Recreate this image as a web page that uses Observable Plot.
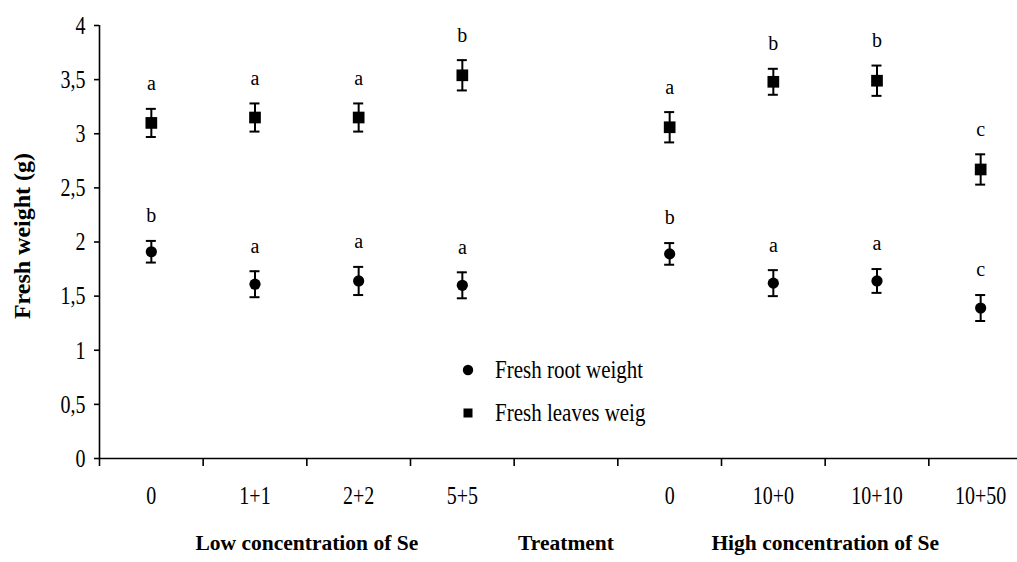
<!DOCTYPE html>
<html><head><meta charset="utf-8">
<script src="https://cdn.jsdelivr.net/npm/d3@7"></script>
<script src="https://cdn.jsdelivr.net/npm/@observablehq/plot@0.6"></script>
<style>
html,body{margin:0;padding:0;background:#fff;overflow:hidden;}
#chart{position:relative;width:1017px;height:562px;overflow:hidden;}
.legend{position:absolute;font-family:"Liberation Serif","Times New Roman",serif;font-size:21px;color:#000;}
.legend .row{position:absolute;display:flex;align-items:center;height:30px;white-space:nowrap;}
.legend svg{margin-right:19px;}
.legend span{display:inline-block;transform:scaleY(1.15);}
</style></head><body><div id="chart"></div>
<script>
// x slots (the 5th slot is the empty "Treatment" gap)
const slots = ["L0","1+1","2+2","5+5","T","H0","10+0","10+10","10+50"];
const slotLabels = ["0","1+1","2+2","5+5","","0","10+0","10+10","10+50"];
const treatments = ["L0","1+1","2+2","5+5","H0","10+0","10+10","10+50"];

const leaves    = [3.10, 3.15, 3.15, 3.54, 3.06, 3.48, 3.49, 2.67];
const leavesErr = [0.13, 0.13, 0.13, 0.14, 0.14, 0.12, 0.14, 0.14];
const leavesSig = ["a","a","a","b","a","b","b","c"];

const root      = [1.91, 1.61, 1.64, 1.60, 1.89, 1.62, 1.64, 1.39];
const rootErr   = [0.10, 0.12, 0.13, 0.12, 0.10, 0.12, 0.11, 0.12];
const rootSig   = ["b","a","a","a","b","a","a","c"];

const yTicks = [0, 0.5, 1, 1.5, 2, 2.5, 3, 3.5, 4];
const groups = [
  {label: "Low concentration of Se", from: "L0", to: "5+5"},
  {label: "Treatment", from: "T", to: "T"},
  {label: "High concentration of Se", from: "H0", to: "10+50"}
];
const seriesNames = ["Fresh root weight", "Fresh leaves weig"];

const slotX = k => slots.indexOf(k) + 0.5;
const mk = (vals, errs, sig, series) => treatments.map((t, i) => ({
  x: slotX(t), v: vals[i], lo: vals[i] - errs[i], hi: vals[i] + errs[i], sig: sig[i], series
}));
const rootPts = mk(root, rootErr, rootSig, seriesNames[0]);
const leafPts = mk(leaves, leavesErr, leavesSig, seriesNames[1]);
const allPts = rootPts.concat(leafPts);
const groupPts = groups.map(g => ({label: g.label, x: (slotX(g.from) + slotX(g.to)) / 2}));

const font = '"Liberation Serif","Times New Roman",serif';

const plot = Plot.plot({
  width: 1017,
  height: 562,
  marginLeft: 99,
  marginRight: -15,
  marginTop: 25,
  marginBottom: 104,
  style: {fontFamily: font, fontSize: "20px", color: "#000", background: "#fff", overflow: "visible"},
  x: {domain: [0, slots.length], axis: null},
  y: {domain: [0, 4], axis: null},
  marks: [
    // axis lines
    Plot.ruleX([0], {stroke: "#000", strokeWidth: 1.6}),
    Plot.ruleY([0], {stroke: "#000", strokeWidth: 1.6}),
    // y axis ticks & labels
    Plot.axisY({ticks: yTicks, tickSize: 5, tickPadding: 9, strokeWidth: 1.6,
      tickFormat: d => String(d).replace(".", ","), label: null, fontSize: 20}),
    // x boundary ticks
    Plot.axisX({ticks: d3.range(0, slots.length + 1), tickSize: 8, strokeWidth: 1.6,
      tickFormat: () => "", label: null}),
    // x category labels
    Plot.axisX({ticks: slots.map((s, i) => i + 0.5), tickSize: 0, tickPadding: 27,
      tickFormat: d => slotLabels[Math.floor(d)], label: null, fontSize: 20}),
    // group labels
    Plot.text(groupPts, {x: "x", text: "label", frameAnchor: "bottom", dy: 91,
      fontWeight: "bold", fontSize: 21.5}),
    // y label
    Plot.text(["Fresh weight (g)"], {frameAnchor: "left", textAnchor: "middle", dx: -77, dy: -6, rotate: -90,
      fontWeight: "bold", fontSize: 24}),
    // error bars
    Plot.ruleX(allPts, {x: "x", y1: "lo", y2: "hi", stroke: "#000", strokeWidth: 2}),
    Plot.ruleY(allPts, {y: "hi", x1: "x", x2: "x", insetLeft: -5, insetRight: -5, stroke: "#000", strokeWidth: 2}),
    Plot.ruleY(allPts, {y: "lo", x1: "x", x2: "x", insetLeft: -5, insetRight: -5, stroke: "#000", strokeWidth: 2}),
    // markers
    Plot.dot(rootPts, {x: "x", y: "v", r: 5.6, symbol: "circle", fill: "#000"}),
    Plot.dot(leafPts, {x: "x", y: "v", r: 6.6, symbol: "square", fill: "#000"}),
    // significance letters
    Plot.text(allPts, {x: "x", y: "hi", text: "sig", dy: -25, fontSize: 20, ariaLabel: "sig-letters"})
  ]
});
const chart = document.getElementById("chart");
chart.appendChild(plot);

// the reference's labels are drawn slightly tall: stretch them vertically
const stretch = (label, s) => {
  plot.querySelectorAll(`g[aria-label="${label}"] text`).forEach(t => {
    const tr = t.getAttribute("transform") || "";
    t.setAttribute("transform", `${tr} scale(1,${s})`);
  });
};
stretch("y-axis tick label", 1.3);
stretch("x-axis tick label", 1.3);
stretch("sig-letters", 1.3);

// legend (inside the plot area)
const legend = document.createElement("div");
legend.className = "legend";
legend.style.left = "0px"; legend.style.top = "0px";
const rows = [
  {name: seriesNames[0], sym: '<circle cx="8" cy="8" r="5.2" fill="#000"/>', top: 355},
  {name: seriesNames[1], sym: '<rect x="3.5" y="3.5" width="9" height="9" fill="#000"/>', top: 398}
];
rows.forEach(r => {
  const row = document.createElement("div");
  row.className = "row";
  row.style.left = "460px"; row.style.top = r.top + "px";
  row.innerHTML = `<svg width="16" height="16">${r.sym}</svg><span>${r.name}</span>`;
  legend.appendChild(row);
});
chart.appendChild(legend);
</script>
</body></html>
